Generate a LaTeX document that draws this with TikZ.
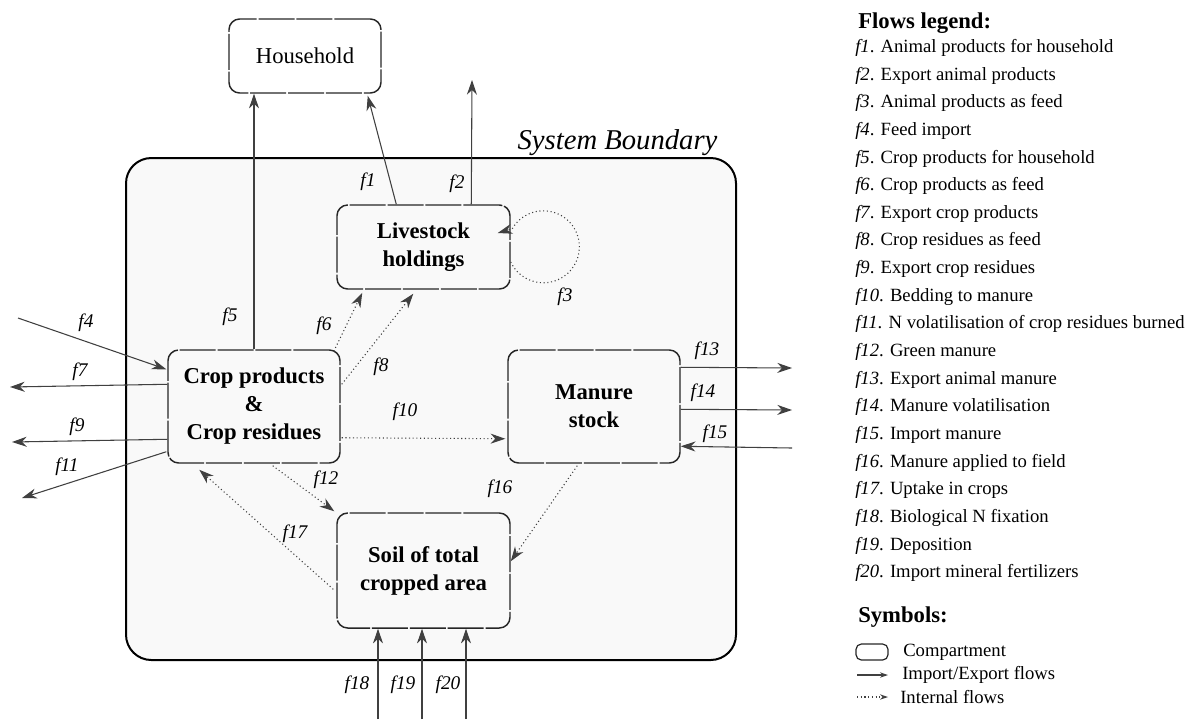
\documentclass[tikz,border=0pt]{standalone}
\usepackage{fontspec}
\setmainfont{Liberation Serif}
\usetikzlibrary{arrows.meta,calc}
\begin{document}
\begin{tikzpicture}[x=0.75pt,y=-0.75pt,
  comp/.style={draw=black!85, line width=1.1pt, rounded corners=8pt,
    dash pattern=on 27pt off 1.4pt, align=center, inner sep=0pt,
    font=\fontsize{17}{21}\selectfont\bfseries},
  tipstyle/.style={-{Stealth[length=11pt,width=7.5pt,inset=3.5pt]}},
  ext/.style={draw=black!75, line width=0.8pt, tipstyle},
  int/.style={draw=black!75, line width=0.8pt, dotted, tipstyle},
  lab/.style={font=\fontsize{14.5}{16}\selectfont\itshape, inner sep=0pt},
  leg/.style={font=\fontsize{14}{16}\selectfont, anchor=west, inner sep=0pt},
  leghead/.style={font=\fontsize{17}{19}\selectfont\bfseries, anchor=west, inner sep=0pt},
]
\useasboundingbox (0,0) rectangle (1187,719);

% system boundary
\draw[line width=1.5pt, fill=black!2.5, rounded corners=19pt] (126,158) rectangle (736,660);
\node[font=\fontsize{21.5}{24}\selectfont\itshape, inner sep=0pt] (sb) at (617.5,143) {System Boundary};

% compartments
\node[comp, font=\fontsize{17}{21}\selectfont, minimum width=114pt, minimum height=55.5pt] (house) at (305,56) {Household};
\node[comp, minimum width=129.75pt, minimum height=63pt] (live) at (423.5,247) {Livestock\\holdings};
\node[comp, minimum width=129pt, minimum height=84.75pt] (crop) at (254,406.5) {Crop products\\\&\\Crop residues};
\node[comp, minimum width=129pt, minimum height=84.75pt] (man) at (594,406.5) {Manure\\stock};
\node[comp, minimum width=129.75pt, minimum height=86.25pt] (soil) at (423.5,570.5) {Soil of total\\cropped area};

% free ends
\coordinate (f2end) at (472,80);
\coordinate (f4start) at (18,318);
\coordinate (f7end) at (10,387);
\coordinate (f9end) at (12,442);
\coordinate (f11end) at (22,498);
\coordinate (f13end) at (792,368);
\coordinate (f14end) at (792,410);
\coordinate (f15start) at (792,448);
\coordinate (f18start) at (378,719);
\coordinate (f19start) at (422,719);
\coordinate (f20start) at (466,719);

% flows
\draw[ext] (crop.north) -- (crop.north |- house.south);
\draw[ext] ($(live.north west)+(60,0)$) -- ($(house.south east)+(-14,2)$);
\draw[ext] ($(live.north west)+(135,0)$) -- (f2end);
\draw[int] ($(live.east)+(0,15)$) arc[start angle=155, end angle=-150, radius=36] -- ($(live.east)+(-13,-14)$);
\draw[ext] (f4start) -- ($(crop.north west)+(-1,20)$);
\draw[ext] ($(crop.north west)+(0,35)$) -- (f7end);
\draw[ext] ($(crop.north west)+(0,90)$) -- (f9end);
\draw[ext] ($(crop.south west)+(-1,-12)$) -- (f11end);
\draw[int] ($(crop.north east)+(-7,2)$) -- ($(live.south west)+(26,3)$);
\draw[int] ($(crop.north east)+(1,35)$) -- ($(live.south west)+(77,4)$);
\draw[int] ($(crop.south east)+(1,-26)$) -- ($(man.south west)+(-2,-25)$);
\draw[int] ($(crop.south east)+(-68,2)$) -- ($(soil.north west)+(-2,-1)$);
\draw[int] ($(soil.north west)+(-3,77)$) -- ($(crop.south west)+(32,6)$);
\draw[int] ($(man.south west)+(70,2)$) -- ($(soil.north east)+(0,49)$);
\draw[ext] ($(man.north east)+(0,18)$) -- (f13end);
\draw[ext] ($(man.north east)+(0,60)$) -- (f14end);
\draw[ext] (f15start) -- ($(man.north east)+(0,97)$);
\draw[ext] (f18start) -- (f18start |- soil.south);
\draw[ext] (f19start) -- (f19start |- soil.south);
\draw[ext] (f20start) -- (f20start |- soil.south);

% flow labels
\node[lab] (l1) at (368,182) {f1};
\node[lab] (l2) at (457,184) {f2};
\node[lab] (l3) at (565,297) {f3};
\node[lab] (l4) at (86,323) {f4};
\node[lab] (l5) at (230,317) {f5};
\node[lab] (l6) at (324,326) {f6};
\node[lab] (l7) at (80,372) {f7};
\node[lab] (l8) at (381,367) {f8};
\node[lab] (l9) at (77,427) {f9};
\node[lab] (l10) at (405,412) {f10};
\node[lab] (l11) at (67,467) {f11};
\node[lab] (l12) at (326,480) {f12};
\node[lab] (l13) at (707,351) {f13};
\node[lab] (l14) at (703,393) {f14};
\node[lab] (l15) at (715,434) {f15};
\node[lab] (l16) at (500,489) {f16};
\node[lab] (l17) at (295,534) {f17};
\node[lab] (l18) at (357,685) {f18};
\node[lab] (l19) at (403,685) {f19};
\node[lab] (l20) at (448,685) {f20};

% legend
\node[leghead] (lh) at (858,23) {Flows legend:};
\node[leg] (g1)  at (855,48)  {\textit{f1}. Animal products for household};
\node[leg] (g2)  at (855,75.6)  {\textit{f2}. Export animal products};
\node[leg] (g3)  at (855,103.3) {\textit{f3}. Animal products as feed};
\node[leg] (g4)  at (855,130.9) {\textit{f4}. Feed import};
\node[leg] (g5)  at (855,158.5) {\textit{f5}. Crop products for household};
\node[leg] (g6)  at (855,186.2) {\textit{f6}. Crop products as feed};
\node[leg] (g7)  at (855,213.8) {\textit{f7}. Export crop products};
\node[leg] (g8)  at (855,241.4) {\textit{f8}. Crop residues as feed};
\node[leg] (g9)  at (855,269.1) {\textit{f9}. Export crop residues};
\node[leg] (g10) at (855,296.7) {\textit{f10}. Bedding to manure};
\node[leg] (g11) at (855,324.3) {\textit{f11}. N volatilisation of crop residues burned};
\node[leg] (g12) at (855,352) {\textit{f12}. Green manure};
\node[leg] (g13) at (855,379.6) {\textit{f13}. Export animal manure};
\node[leg] (g14) at (855,407.2) {\textit{f14}. Manure volatilisation};
\node[leg] (g15) at (855,434.9) {\textit{f15}. Import manure};
\node[leg] (g16) at (855,462.5) {\textit{f16}. Manure applied to field};
\node[leg] (g17) at (855,490.1) {\textit{f17}. Uptake in crops};
\node[leg] (g18) at (855,517.8) {\textit{f18}. Biological N fixation};
\node[leg] (g19) at (855,545.4) {\textit{f19}. Deposition};
\node[leg] (g20) at (855,573) {\textit{f20}. Import mineral fertilizers};

\node[leghead] (sh) at (858,617) {Symbols:};
\node[draw=black!85, line width=0.9pt, rounded corners=4pt, minimum width=24pt, minimum height=12pt, inner sep=0pt] (symc) at (872,652) {};
\node[leg] (t1) at (903,652) {Compartment};
\coordinate (s2a) at (857,675);
\coordinate (s2b) at (888,675);
\draw[draw=black!75, line width=0.8pt, -{Stealth[length=6pt,width=4pt,inset=2pt]}] (s2a) -- (s2b);
\node[leg] (t2) at (902,675) {Import/Export flows};
\coordinate (s3a) at (857,697);
\coordinate (s3b) at (888,697);
\draw[draw=black!75, line width=0.8pt, dotted, -{Stealth[length=6pt,width=4pt,inset=2pt]}] (s3a) -- (s3b);
\node[leg] (t3) at (900,697) {Internal flows};
\end{tikzpicture}
\end{document}
